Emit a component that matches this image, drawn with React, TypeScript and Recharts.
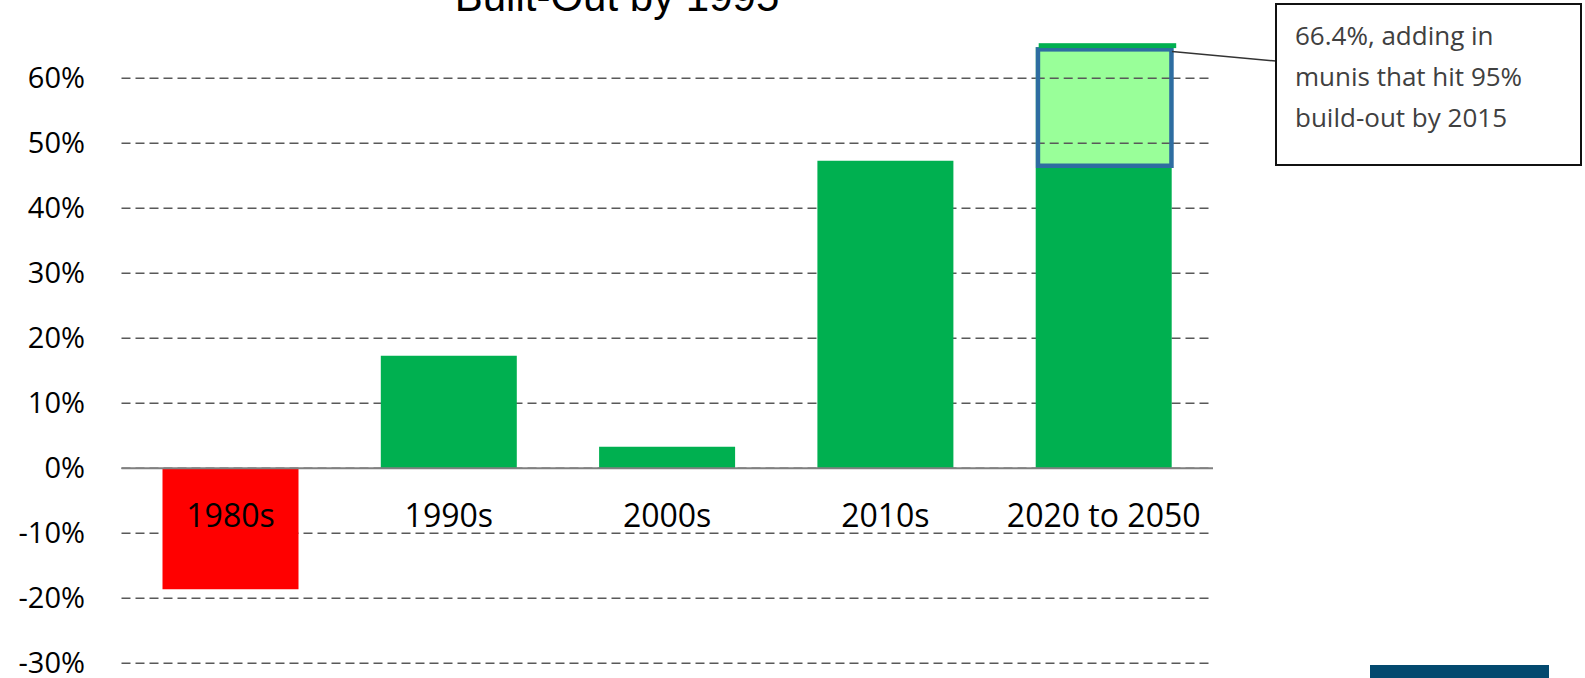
import React from 'react';
import {
  BarChart,
  Bar,
  XAxis,
  YAxis,
  CartesianGrid,
  ReferenceLine,
  LabelList,
  Cell
} from 'recharts';

// decades along the axis
const categories = ['1980s', '1990s', '2000s', '2010s', '2020 to 2050'];
// main change per decade (%)
const baseValues = [-18.6, 17.3, 3.3, 47.3, 46.2];
// extra share when munis hitting 95% build-out by 2015 are added (%)
const buildOutValues = [0, 0, 0, 0, 18.6];
// thin cap on top of the projection bar (%)
const capValues = [0, 0, 0, 0, 0.6];
const baseColors = ['#FF0000', '#00B050', '#00B050', '#00B050', '#00B050'];
const yTicks = [-30, -20, -10, 0, 10, 20, 30, 40, 50, 60];

const WIDTH = 1585;
const HEIGHT = 678;
const FONT = "'Open Sans', sans-serif";
const GRID_COLOR = '#595959';
const GRID_DASH = '9 5';

const chartData = categories.map((name, i) => ({
  name,
  base: baseValues[i],
  buildOut: buildOutValues[i],
  cap: capValues[i]
}));

const YTick = (props: any) => {
  const { y, payload } = props;
  return (
    <text x={85} y={y + 10} textAnchor="end" fill="#000" fontSize={29} fontFamily={FONT}>
      {`${payload.value}%`}
    </text>
  );
};

// category names sit just under the zero line, like Excel's crossing axis
const renderCategoryLabel = (props: any) => {
  const { x, y, width, height, value, index } = props;
  const h = Number(height);
  const top = Number(y);
  const zeroY = baseValues[index] >= 0 ? Math.max(top, top + h) : Math.min(top, top + h);
  return (
    <text
      x={Number(x) + Number(width) / 2}
      y={zeroY + 59}
      textAnchor="middle"
      fill="#000"
      fontSize={32}
      fontFamily={FONT}
    >
      {value}
    </text>
  );
};

const BuildOutShape = (props: any) => {
  const { x, y, width, height, index } = props;
  if (!height || Math.abs(height) < 0.5) return null;
  const low = baseValues[index];
  const span = buildOutValues[index];
  const pxPer = height / span;
  // gridlines show through the light green box
  const lines = yTicks
    .filter(t => t > low && t < low + span)
    .map(t => y + height - (t - low) * pxPer);
  return (
    <g>
      <rect x={x} y={y} width={width} height={height} fill="#99FF99" />
      {lines.map((ly, i) => (
        <line
          key={i}
          x1={x}
          x2={x + width}
          y1={ly}
          y2={ly}
          stroke={GRID_COLOR}
          strokeWidth={1.5}
          strokeDasharray={GRID_DASH}
        />
      ))}
      <rect
        x={x + 2.25}
        y={y + 2.25}
        width={width - 2.5}
        height={height - 4.5}
        fill="none"
        stroke="#2E6DA1"
        strokeWidth={4.5}
      />
    </g>
  );
};

const CapShape = (props: any) => {
  const { x, y, width, height } = props;
  if (!height || Math.abs(height) < 0.3) return null;
  return <rect x={x + 3} y={y} width={width + 1.5} height={height + 1} fill="#00B050" />;
};

const App: React.FC = () => {
  return (
    <div
      style={{
        position: 'absolute',
        left: 0,
        top: 0,
        width: WIDTH,
        height: HEIGHT,
        overflow: 'hidden',
        background: '#fff'
      }}
    >
      <BarChart
        width={WIDTH}
        height={HEIGHT}
        data={chartData}
        stackOffset="sign"
        margin={{ top: 13.3, right: 372, bottom: 14.7, left: 21.5 }}
      >
        <CartesianGrid
          vertical={false}
          horizontalValues={yTicks}
          stroke={GRID_COLOR}
          strokeWidth={1.5}
          strokeDasharray={GRID_DASH}
        />
        <XAxis dataKey="name" hide />
        <YAxis
          width={100}
          domain={[-30, 70]}
          ticks={yTicks}
          axisLine={false}
          tickLine={false}
          tick={<YTick />}
        />
        <Bar dataKey="base" stackId="a" barSize={136} isAnimationActive={false}>
          {chartData.map((d, i) => (
            <Cell key={d.name} fill={baseColors[i]} />
          ))}
          <LabelList dataKey="name" content={renderCategoryLabel} />
        </Bar>
        <Bar
          dataKey="buildOut"
          stackId="a"
          barSize={136}
          shape={<BuildOutShape />}
          isAnimationActive={false}
        />
        <Bar
          dataKey="cap"
          stackId="a"
          barSize={136}
          shape={<CapShape />}
          isAnimationActive={false}
        />
        <ReferenceLine y={0} stroke="#808080" strokeWidth={2} />
      </BarChart>

      <svg
        width={WIDTH}
        height={HEIGHT}
        style={{ position: 'absolute', left: 0, top: 0, pointerEvents: 'none' }}
      >
        <text
          x={617}
          y={11}
          textAnchor="middle"
          fontSize={42}
          fontFamily="'Liberation Sans', Arial, sans-serif"
          fill="#000"
        >
          Built-Out by 1995
        </text>
        <line x1={1172} y1={51.5} x2={1276} y2={61} stroke="#333" strokeWidth={1.5} />
        <rect x={1276} y={4} width={305} height={161} fill="#fff" stroke="#111" strokeWidth={2} />
        <g fontFamily={FONT} fontSize={26} fill="#404040">
          <text x={1295} y={45}>66.4%, adding in</text>
          <text x={1295} y={86}>munis that hit 95%</text>
          <text x={1295} y={127}>build-out by 2015</text>
        </g>
        <rect x={1370} y={665} width={179} height={13} fill="#03496F" />
      </svg>
    </div>
  );
};

export default App;
